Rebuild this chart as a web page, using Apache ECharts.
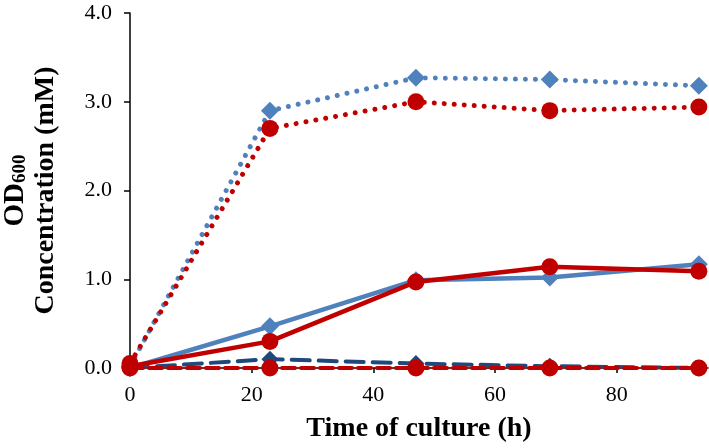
<!DOCTYPE html>
<html>
<head>
<meta charset="utf-8">
<script src="https://cdn.jsdelivr.net/npm/echarts@6/dist/echarts.min.js"></script>
<style>html,body{margin:0;padding:0;background:#fff;}#c{width:709px;height:448px;}</style>
</head>
<body>
<div id="c"></div>
<script>
var times = [0, 23, 47, 69, 93.5];
var blueDotted = [0.02, 2.90, 3.27, 3.25, 3.18];
var redDotted = [0.05, 2.70, 3.00, 2.90, 2.94];
var blueSolid = [0.00, 0.47, 0.99, 1.02, 1.17];
var redSolid = [0.02, 0.30, 0.97, 1.14, 1.09];
var navyDashed = [0.00, 0.10, 0.05, 0.02, 0.00];
var redDashed = [0.00, 0.00, 0.00, 0.00, 0.00];
var yTicks = ['0.0', '1.0', '2.0', '3.0', '4.0'];
var xTitle = 'Time of culture (h)';
var yTitle1 = 'OD';
var yTitleSub = '600';
var yTitle2 = 'Concentration (mM)';

function pts(v) { return times.map(function (t, i) { return [t, v[i]]; }); }

var BLUE = '#4F81BD', RED = '#C00000', NAVY = '#1F497D';
var FONT = '"Liberation Serif", "Times New Roman", serif';

function mk(name, data, color, symbol, size, lineType, width, symColor, z) {
  return {
    name: name, type: 'line', data: pts(data), symbol: symbol, symbolSize: size,
    clip: false, z: z,
    itemStyle: { color: symColor || color },
    lineStyle: { color: color, width: width, type: lineType, cap: lineType === 'solid' ? 'butt' : 'round' },
    emphasis: { disabled: true }, animation: false
  };
}

var chart = echarts.init(document.getElementById('c'));
chart.setOption({
  animation: false,
  grid: { left: 130, right: 1, top: 13, bottom: 80, containLabel: false, outerBoundsMode: 'none' },
  xAxis: {
    type: 'value', min: 0, max: 95, interval: 20,
    name: xTitle, nameLocation: 'middle', nameGap: 47,
    nameTextStyle: { fontFamily: FONT, fontWeight: 'bold', fontSize: 28, color: '#000' },
    axisLine: { lineStyle: { color: '#000', width: 1.5 } },
    axisTick: { show: true, length: 5, lineStyle: { color: '#000', width: 1.5 } },
    axisLabel: { showMaxLabel: false, margin: 16, fontFamily: FONT, fontSize: 22, color: '#000' },
    splitLine: { show: false }
  },
  yAxis: {
    type: 'value', min: 0, max: 4, interval: 1,
    name: '{a|' + yTitle1 + '}{s|' + yTitleSub + '}\n{b|' + yTitle2 + '}',
    nameLocation: 'middle', nameGap: 68, nameRotate: 90,
    nameTextStyle: {
      align: 'center',
      rich: {
        a: { fontFamily: FONT, fontWeight: 'bold', fontSize: 29, color: '#000', lineHeight: 32, verticalAlign: 'bottom' },
        s: { fontFamily: FONT, fontWeight: 'bold', fontSize: 19, color: '#000', lineHeight: 32, verticalAlign: 'bottom', padding: [8, 0, 0, 0] },
        b: { fontFamily: FONT, fontWeight: 'bold', fontSize: 28, color: '#000', lineHeight: 32 }
      }
    },
    axisLine: { show: true, lineStyle: { color: '#000', width: 1.5 } },
    axisTick: { show: true, length: 6, lineStyle: { color: '#000', width: 1.5 } },
    axisLabel: { margin: 18, fontFamily: FONT, fontSize: 22, color: '#000',
      formatter: function (v) { return yTicks[Math.round(v)]; } },
    splitLine: { show: false }
  },
  series: [
    mk('navyDashed', navyDashed, NAVY, 'diamond', 17, [18, 9], 4, NAVY, 2),
    mk('blueSolid', blueSolid, BLUE, 'diamond', 18, 'solid', 4.5, BLUE, 3),
    mk('blueDotted', blueDotted, BLUE, 'diamond', 18, [0.01, 10], 5, BLUE, 4),
    mk('redDashed', redDashed, RED, 'circle', 17, [13, 6], 4, RED, 5),
    mk('redSolid', redSolid, RED, 'circle', 17, 'solid', 4.5, RED, 6),
    mk('redDotted', redDotted, RED, 'circle', 17, [0.01, 10], 5, RED, 7)
  ]
});
</script>
</body>
</html>
